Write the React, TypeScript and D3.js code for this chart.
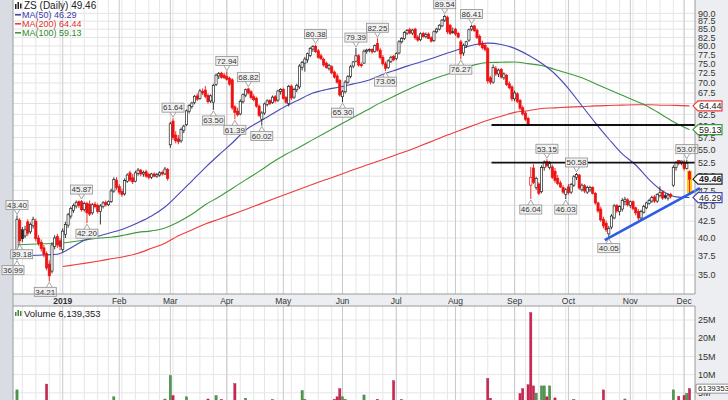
import React from 'react';
import * as d3 from 'd3';

// ---------- categories ----------
const START = '2018-12-06';
const END = '2019-12-04';
const HOLIDAYS = ['2018-12-25', '2019-01-01', '2019-01-21', '2019-02-18', '2019-04-19', '2019-05-27', '2019-07-04', '2019-09-02', '2019-11-28'];
const MONTH_NAMES = ['2019', 'Feb', 'Mar', 'Apr', 'May', 'Jun', 'Jul', 'Aug', 'Sep', 'Oct', 'Nov', 'Dec'];

// ---------- daily OHLC ----------
const opens = [
  37.5, 42.6, 41.2, 40.3, 42.4, 40.9, 41.8, 42.5, 40.0, 39.4,
  38.6, 37.8, 36.4, 35.5, 38.8, 40.2, 39.6, 38.4, 40.5, 41.9,
  43.3, 44.2, 44.9, 45.6, 45.6, 44.3, 45.3, 45.2, 43.8, 45.2,
  45.0, 44.0, 44.8, 45.5, 45.1, 45.6, 47.4, 49.3, 48.2, 47.3,
  46.9, 49.1, 50.6, 49.7, 49.1, 50.5, 51.1, 50.4, 50.8, 50.3,
  49.8, 50.4, 50.0, 50.2, 50.7, 50.4, 51.2, 56.0, 61.0, 58.0,
  57.2, 56.8, 59.0, 60.2, 63.2, 64.3, 65.2, 66.8, 66.2, 67.9,
  68.2, 66.9, 65.6, 65.3, 69.6, 71.8, 72.5, 72.0, 71.6, 71.2,
  70.8, 64.2, 63.2, 62.6, 65.4, 67.0, 68.5, 67.8, 66.6, 66.2,
  64.4, 61.4, 62.8, 64.8, 65.7, 65.2, 66.6, 65.8, 67.9, 68.4,
  66.4, 65.0, 69.2, 66.5, 68.3, 69.0, 74.0, 75.2, 76.1, 77.3,
  79.1, 79.9, 78.6, 77.2, 76.2, 75.2, 73.7, 74.2, 72.8, 71.8,
  70.6, 66.6, 67.8, 70.2, 71.7, 74.4, 75.7, 77.2, 74.8, 75.2,
  78.5, 78.9, 79.0, 78.4, 80.7, 78.8, 76.8, 75.0, 74.0, 75.6,
  77.0, 76.5, 78.0, 81.2, 82.2, 83.8, 84.8, 83.8, 85.0, 82.6,
  81.8, 83.7, 82.7, 83.5, 82.4, 81.6, 84.2, 85.0, 86.0, 87.8,
  88.7, 86.2, 84.2, 85.0, 83.7, 81.2, 78.0, 80.2, 81.7, 85.0,
  86.0, 84.7, 82.8, 80.8, 80.2, 79.2, 71.3, 70.2, 73.7, 72.3,
  73.5, 71.3, 71.9, 69.8, 69.0, 66.1, 67.3, 65.7, 64.0, 62.8,
  61.6, 48.4, 51.5, 48.0, 48.6, 47.3, 51.6, 52.7, 51.6, 51.7,
  50.9, 49.6, 48.8, 48.0, 46.8, 48.1, 47.2, 48.4, 49.8, 50.2,
  47.6, 48.3, 47.2, 47.6, 48.0, 47.0, 45.4, 44.4, 42.8, 42.2,
  40.6, 41.6, 43.0, 45.0, 44.0, 44.4, 45.6, 45.9, 45.0, 45.6,
  44.6, 44.0, 43.0, 43.9, 44.6, 45.3, 45.7, 46.4, 45.7, 46.6,
  47.2, 46.6, 46.2, 46.8, 48.4, 51.6, 52.9, 52.4, 52.6, 51.4,
  50.8,
];
const highs = [
  43.40, 43.0, 41.6, 41.8, 42.8, 42.3, 43.2, 42.9, 40.4, 39.8,
  39.0, 38.1, 36.9, 39.4, 40.4, 40.6, 40.0, 41.4, 42.4, 43.8,
  44.8, 45.3, 45.8, 45.8, 45.87, 45.6, 45.6, 45.8, 45.4, 45.6,
  45.3, 45.2, 45.7, 45.8, 45.8, 47.8, 49.8, 49.8, 48.6, 47.8,
  49.6, 50.5, 51.0, 50.4, 51.0, 51.5, 51.3, 51.0, 51.2, 50.6,
  50.6, 50.7, 50.6, 50.9, 51.0, 51.7, 51.5, 60.8, 61.64, 58.8,
  58.0, 59.6, 60.2, 63.6, 64.8, 65.4, 67.0, 67.4, 68.5, 68.6,
  69.2, 67.4, 67.2, 69.8, 72.4, 72.8, 72.9, 72.6, 72.94, 71.6,
  71.2, 64.6, 64.0, 66.0, 67.4, 68.6, 68.82, 68.2, 67.2, 66.6,
  64.8, 63.2, 65.2, 66.0, 66.0, 66.9, 67.0, 68.3, 68.7, 68.8,
  66.8, 69.5, 69.6, 68.8, 69.8, 74.9, 75.8, 76.9, 78.1, 79.7,
  80.2, 80.38, 79.1, 77.8, 76.7, 75.6, 75.0, 74.6, 73.2, 72.4,
  71.0, 68.2, 70.7, 72.0, 74.7, 75.8, 79.39, 77.7, 75.4, 79.0,
  79.2, 79.3, 79.3, 80.4, 82.25, 79.5, 77.4, 75.6, 76.2, 77.2,
  77.4, 78.2, 81.7, 82.6, 84.4, 85.0, 85.4, 85.1, 85.4, 83.2,
  84.0, 84.2, 84.0, 84.0, 82.8, 84.6, 85.4, 86.5, 88.2, 89.54,
  89.2, 86.6, 85.5, 85.4, 84.2, 81.8, 80.7, 81.5, 85.2, 86.41,
  86.2, 85.2, 83.4, 81.5, 80.8, 79.7, 71.8, 74.8, 74.4, 73.7,
  73.9, 72.7, 72.3, 70.4, 69.4, 68.1, 67.7, 66.1, 64.5, 63.2,
  62.0, 51.7, 52.2, 49.9, 48.9, 52.0, 52.9, 53.15, 52.8, 52.1,
  51.5, 50.2, 49.2, 48.4, 47.9, 48.6, 48.8, 50.2, 50.58, 50.4,
  48.7, 48.6, 48.3, 48.3, 48.2, 47.2, 45.6, 44.8, 43.2, 42.6,
  41.8, 43.6, 45.2, 45.2, 45.0, 46.2, 46.4, 46.2, 45.8, 45.8,
  44.8, 44.4, 44.3, 45.1, 45.6, 46.1, 46.6, 46.7, 47.0, 48.2,
  47.5, 47.0, 47.0, 47.1, 52.0, 52.8, 53.0, 52.9, 53.0, 53.07,
  51.0,
];
const lows = [
  36.99, 39.18, 39.4, 40.0, 40.3, 40.6, 41.4, 39.5, 38.9, 38.1,
  37.3, 35.6, 34.21, 35.2, 38.4, 38.6, 38.3, 38.0, 40.0, 41.5,
  42.9, 43.8, 44.5, 44.6, 44.0, 44.0, 42.2, 43.3, 43.5, 44.5,
  43.7, 42.0, 44.5, 44.8, 44.9, 45.4, 47.1, 47.6, 46.8, 46.4,
  46.6, 48.8, 49.0, 48.6, 48.9, 50.1, 50.0, 49.9, 49.7, 49.4,
  49.5, 49.8, 49.7, 49.9, 50.1, 50.2, 49.2, 55.4, 57.0, 56.3,
  56.1, 56.4, 58.4, 59.9, 62.7, 63.8, 64.8, 65.6, 65.9, 67.0,
  66.2, 65.0, 65.1, 63.5, 69.2, 71.0, 71.1, 71.0, 70.6, 69.3,
  63.5, 61.39, 62.0, 62.3, 65.0, 66.5, 67.2, 66.0, 65.5, 64.0,
  61.9, 60.02, 62.4, 64.3, 64.6, 64.9, 65.2, 65.4, 67.1, 65.9,
  64.9, 64.3, 65.8, 66.1, 67.7, 68.5, 73.2, 72.9, 75.3, 76.8,
  78.3, 78.0, 76.4, 76.0, 74.2, 73.7, 73.2, 72.2, 71.1, 69.8,
  66.6, 65.30, 67.4, 69.8, 71.2, 73.8, 75.4, 74.2, 74.0, 75.0,
  77.8, 78.2, 77.8, 78.1, 78.4, 76.2, 74.5, 73.05, 73.6, 75.2,
  75.7, 76.0, 77.6, 80.7, 81.7, 83.2, 83.4, 83.2, 81.8, 81.2,
  81.4, 82.4, 82.2, 82.0, 81.0, 81.2, 83.7, 84.6, 85.6, 87.2,
  83.5, 83.2, 83.6, 83.0, 82.2, 76.27, 77.2, 79.4, 81.2, 84.4,
  84.2, 82.0, 80.0, 79.0, 78.4, 69.8, 69.6, 69.8, 71.8, 71.5,
  71.1, 70.8, 69.2, 68.4, 65.5, 65.5, 65.1, 63.4, 62.2, 61.0,
  60.0, 46.04, 48.6, 47.6, 46.7, 47.0, 51.0, 51.6, 51.2, 49.5,
  48.8, 48.4, 47.9, 46.9, 46.03, 46.8, 46.9, 48.1, 49.3, 47.6,
  47.3, 47.0, 46.9, 47.2, 46.8, 45.1, 43.8, 42.4, 41.4, 40.9,
  40.05, 41.3, 42.8, 43.8, 43.4, 44.0, 45.0, 44.8, 44.6, 44.2,
  43.4, 42.6, 42.7, 43.7, 44.4, 45.1, 45.4, 45.4, 45.4, 46.3,
  45.9, 46.0, 45.8, 46.1, 48.1, 51.0, 52.0, 52.0, 51.0, 51.2,
  47.0,
];
const closes = [
  42.8, 39.6, 39.9, 41.2, 40.7, 42.0, 42.8, 39.9, 39.2, 38.5,
  37.7, 35.9, 34.9, 39.0, 40.0, 39.0, 38.8, 41.0, 42.0, 43.5,
  44.5, 45.0, 45.5, 45.0, 44.3, 45.3, 43.8, 43.6, 45.1, 44.8,
  44.0, 44.9, 45.4, 45.1, 45.6, 47.4, 49.4, 48.0, 47.2, 46.8,
  49.2, 50.2, 49.3, 49.0, 50.6, 51.1, 50.4, 50.7, 50.0, 49.8,
  50.4, 50.0, 50.3, 50.6, 50.4, 51.3, 49.6, 60.4, 57.5, 56.8,
  56.6, 59.2, 59.9, 63.3, 64.5, 65.1, 66.7, 66.0, 68.0, 67.5,
  66.7, 65.4, 66.8, 69.4, 72.0, 72.4, 71.4, 71.3, 70.9, 69.7,
  64.0, 62.9, 62.4, 65.5, 67.1, 68.3, 67.5, 66.4, 65.9, 64.4,
  62.3, 62.8, 64.9, 65.6, 65.0, 66.5, 65.6, 68.0, 68.4, 66.2,
  65.3, 69.1, 66.3, 68.4, 69.4, 74.4, 75.4, 76.3, 77.8, 79.3,
  79.8, 78.4, 76.8, 76.4, 74.7, 74.0, 74.6, 72.6, 71.5, 70.2,
  67.0, 67.8, 70.2, 71.6, 74.2, 75.5, 77.2, 74.7, 74.5, 78.5,
  78.8, 79.0, 78.3, 80.1, 78.8, 76.7, 75.0, 73.8, 75.8, 76.8,
  76.1, 77.8, 81.2, 82.2, 84.0, 84.6, 83.8, 84.7, 82.4, 81.7,
  83.6, 82.8, 83.4, 82.2, 81.4, 84.2, 85.0, 86.2, 87.8, 89.0,
  84.2, 83.7, 84.0, 83.5, 82.6, 77.7, 80.2, 81.2, 84.8, 85.8,
  84.5, 82.5, 80.4, 79.5, 79.0, 70.5, 70.2, 74.0, 72.3, 73.3,
  71.5, 72.3, 69.6, 68.8, 66.1, 67.5, 65.5, 63.9, 62.6, 61.4,
  60.3, 49.8, 48.9, 49.6, 47.0, 51.6, 52.6, 51.9, 52.3, 49.8,
  49.2, 48.7, 48.1, 47.2, 47.6, 47.1, 48.5, 49.9, 50.3, 47.9,
  48.4, 47.4, 48.0, 48.0, 47.0, 45.4, 44.1, 42.7, 41.8, 41.2,
  41.4, 43.3, 44.9, 44.1, 44.8, 45.8, 46.0, 45.1, 45.6, 44.5,
  43.8, 43.0, 44.0, 44.8, 45.4, 45.8, 46.3, 45.7, 46.8, 47.1,
  46.2, 46.3, 46.7, 46.5, 51.6, 52.5, 52.4, 52.8, 51.4, 52.4,
  49.46,
];
// volume in millions of shares
const volumes = [
  5.8, 2.9, 2.4, 1.9, 2.2, 1.8, 1.7, 2.3, 2.0, 2.6,
  2.4, 7.4, 1.6, 2.1, 1.9, 1.5, 1.7, 2.0, 1.9, 2.2,
  2.1, 1.8, 1.9, 1.6, 2.0, 1.4, 2.2, 1.9, 1.5, 1.3,
  1.6, 2.0, 1.5, 1.4, 1.7, 2.6, 3.9, 2.1, 1.8, 1.6,
  2.0, 1.9, 1.7, 1.5, 1.8, 1.6, 1.3, 1.2, 1.5, 1.4,
  1.3, 1.2, 1.4, 1.5, 1.6, 3.3, 2.4, 9.7, 4.2, 2.6,
  2.2, 2.0, 2.4, 3.9, 2.6, 2.1, 2.3, 1.9, 2.0, 1.8,
  2.2, 3.3, 2.1, 2.8, 4.2, 2.4, 3.2, 2.0, 1.8, 2.1,
  2.9, 7.5, 2.6, 2.2, 2.0, 3.5, 1.9, 1.7, 1.6, 2.0,
  2.4, 2.6, 1.9, 1.7, 1.5, 3.2, 1.6, 1.8, 1.5, 2.1,
  1.9, 2.6, 2.3, 1.8, 1.7, 2.9, 5.6, 3.2, 2.4, 2.2,
  2.0, 2.3, 2.1, 1.8, 2.2, 1.9, 1.7, 2.4, 3.2, 3.9,
  6.1, 3.9, 3.2, 2.5, 2.2, 2.0, 2.8, 2.4, 1.9, 4.4,
  2.3, 1.8, 1.7, 2.0, 3.2, 2.6, 2.4, 2.1, 1.9, 1.7,
  8.3, 2.2, 2.6, 3.2, 2.4, 1.9, 1.7, 1.6, 2.1, 1.9,
  1.7, 1.6, 1.5, 1.8, 2.0, 2.2, 1.9, 1.8, 2.1, 2.7,
  2.9, 2.4, 2.0, 2.2, 2.1, 2.8, 2.3, 1.9, 2.5, 2.4,
  2.0, 2.2, 2.6, 2.3, 2.4, 8.9, 3.5, 2.8, 2.4, 2.1,
  2.2, 1.9, 2.6, 2.4, 2.8, 2.6, 2.5, 4.8, 6.1, 2.9,
  7.2, 27.0, 6.9, 4.9, 2.9, 6.9, 6.9, 3.9, 6.9, 2.8,
  3.6, 2.7, 2.5, 2.6, 2.4, 2.2, 2.5, 3.2, 2.6, 2.7,
  2.2, 2.0, 1.9, 2.1, 2.3, 2.6, 2.8, 2.9, 5.8, 2.9,
  2.7, 2.6, 2.5, 2.1, 1.9, 2.2, 3.3, 2.0, 1.8, 2.1,
  1.9, 2.3, 2.0, 1.8, 1.7, 1.6, 1.9, 1.8, 2.0, 2.4,
  2.1, 1.7, 1.6, 1.5, 5.8, 2.8, 4.0, 2.6, 4.25, 4.8,
  6.139353,
];

const ma50Idx = d3.range(0, 251, 5);
const ma50 = [37.49, 37.55, 37.62, 37.72, 38.58, 39.68, 40.24, 40.79, 41.41, 42.26,
  43.30, 44.74, 46.82, 49.13, 51.58, 53.97, 56.36, 59.07, 60.87, 62.62,
  64.41, 65.96, 67.48, 68.36, 68.98, 69.76, 70.55, 71.91, 73.16, 74.38,
  75.5, 76.65, 77.98, 79.2, 80.36, 80.83, 80.44, 79.3, 77.43, 75.14,
  72.3, 68.6, 64.46, 60.62, 57.18, 54.18, 52.06, 49.39, 47.38, 46.4, 46.29];
const ma100Idx = d3.range(0, 251, 5);
const ma100 = [39.03, 39.1, 39.17, 39.26, 39.43, 39.7, 39.97, 40.11, 40.43, 40.82,
  41.04, 41.48, 42.39, 43.57, 45.11, 46.37, 47.83, 49.34, 50.87, 52.57,
  54.11, 55.51, 57.05, 58.6, 60.18, 61.79, 63.42, 65.14, 66.65, 68.24,
  69.72, 71.06, 72.25, 73.48, 74.71, 75.34, 75.42, 75.5, 75.05, 74.55,
  73.48, 72.4, 71.31, 69.81, 68.36, 66.95, 65.57, 64.14, 62.3, 60.5, 59.13];
const ma200Idx = [17, ...d3.range(20, 251, 5)];
const ma200 = [36.08, 36.24, 36.5, 36.79, 37.11, 37.42, 37.87, 38.54, 39.26, 40.31,
  41.17, 42.06, 42.8, 43.56, 44.34, 45.16, 46.0, 46.86, 47.71, 48.56,
  49.41, 50.27, 51.17, 52.04, 52.92, 53.83, 54.75, 55.79, 56.89, 58.0,
  59.05, 60.12, 61.2, 62.08, 62.94, 63.33, 63.82, 63.98, 64.15, 64.27,
  64.44, 64.53, 64.62, 64.7, 64.7, 64.6, 64.55, 64.44];

// ---------- annotations ----------
const priceTicks = d3.range(35, 90.01, 2.5);
const volTicks = [5, 10, 15, 20, 25];
const labelIdx = [0, 0, 1, 12, 24, 26, 58, 73, 78, 81, 86, 91, 111, 121, 126, 134, 137, 159, 165, 169, 191, 197, 204, 208, 220, 249];
const labelKind = ['H', 'L', 'L', 'L', 'H', 'L', 'H', 'L', 'H', 'L', 'H', 'L', 'H', 'L', 'H', 'H', 'L', 'H', 'L', 'H', 'L', 'H', 'L', 'H', 'L', 'H'];
const labelDx = [0, -6, 2, -4, 0, 0, 0, 0, 0, 0, 0, 0, 0, 0, 0, 0, 0, 0, 0, 0, 0, 0, 0, 0, 0, 0];
const resistanceLevels = [60.14, 52.5];
const resistanceFrom = 176.4;
const trendIdx = [218.5, 253.9];
const trendPrice = [39.7, 47.9];
const LAST_CLOSE = 49.46;
const LAST_VOLUME = '6,139,353';
const LAST_VOLUME_TAG = '6139353';

const FONT = 'Liberation Sans, Arial, sans-serif';

function tradingDays(): Date[] {
  const hol = new Set(HOLIDAYS);
  const out: Date[] = [];
  const d = new Date(START + 'T00:00:00Z');
  const end = new Date(END + 'T00:00:00Z');
  while (d <= end) {
    const wd = d.getUTCDay();
    const iso = d.toISOString().slice(0, 10);
    if (wd !== 0 && wd !== 6 && !hol.has(iso)) out.push(new Date(d.getTime()));
    d.setUTCDate(d.getUTCDate() + 1);
  }
  return out;
}

const PL = 13, PR = 695, PT = 0, PB = 294, VT = 306, VB = 400;

function Tag({ yy, text, color, bold }: { yy: number; text: string; color: string; bold?: boolean }) {
  return (
    <g>
      <path d={`M693,${yy} L698,${yy - 5} L722,${yy - 5} L722,${yy + 5} L698,${yy + 5} Z`} fill="#fff" stroke={color} strokeWidth={1.2} />
      <text x={699} y={yy + 3.3} fontSize={9} fontWeight={bold ? 'bold' : 'normal'} fill="#222">{text}</text>
    </g>
  );
}

export default function App() {
  const dates = tradingDays();
  const n = closes.length;
  const x = d3.scaleLinear().domain([0, n - 1]).range([17, 689.5]);
  const y = d3.scaleLog().domain([35, 90]).range([275, 13.3]);
  const yv = d3.scaleLinear().domain([0, 25]).range([411, 320]);

  const monthStarts = dates.map((_, i) => i).filter((i) => i > 0 && dates[i].getUTCMonth() !== dates[i - 1].getUTCMonth());
  const weekStarts = dates.map((_, i) => i).filter((i) => i > 0 && dates[i].getUTCDay() < dates[i - 1].getUTCDay());

  const maPath = (idx: number[], vals: number[]) =>
    d3.line<number>().x((_, k) => x(idx[k])).y((v) => y(v)).curve(d3.curveMonotoneX)(vals) || '';

  const isUp = (i: number) => (i === 0 ? closes[i] >= opens[i] : closes[i] >= closes[i - 1]);

  return (
    <svg width={728} height={400} style={{ position: 'absolute', left: 0, top: 0, display: 'block' }} fontFamily={FONT}>
      <defs>
        <clipPath id="pclip"><rect x={PL} y={PT} width={PR - PL} height={PB - PT} /></clipPath>
        <clipPath id="vclip"><rect x={PL} y={VT} width={PR - PL} height={VB - VT} /></clipPath>
      </defs>
      {/* backgrounds */}
      <rect x={0} y={0} width={728} height={400} fill="#eceef1" />
      <rect x={0} y={0} width={PL} height={400} fill="#d9dde3" />
      <rect x={PL} y={PT} width={PR - PL} height={PB - PT} fill="#fff" />
      <rect x={PL} y={VT} width={PR - PL} height={VB - VT} fill="#fff" />

      {/* price grid */}
      <g clipPath="url(#pclip)">
        {priceTicks.map((t) => (
          <line key={'h' + t} x1={PL} x2={PR} y1={y(t)} y2={y(t)} stroke="#e3e3e3" strokeWidth={1} />
        ))}
        {weekStarts.map((i) => (
          <line key={'w' + i} x1={x(i)} x2={x(i)} y1={PT} y2={PB} stroke="#e6e6e6" strokeWidth={1} />
        ))}
        {monthStarts.map((i) => (
          <line key={'m' + i} x1={x(i)} x2={x(i)} y1={PT} y2={PB} stroke="#c9c9c9" strokeWidth={1} />
        ))}
      </g>
      {/* volume grid */}
      <g clipPath="url(#vclip)">
        {volTicks.map((t) => (
          <line key={'vh' + t} x1={PL} x2={PR} y1={yv(t)} y2={yv(t)} stroke="#e6e6e6" strokeWidth={1} />
        ))}
        {weekStarts.map((i) => (
          <line key={'vw' + i} x1={x(i)} x2={x(i)} y1={VT} y2={VB} stroke="#e6e6e6" strokeWidth={1} />
        ))}
        {monthStarts.map((i) => (
          <line key={'vm' + i} x1={x(i)} x2={x(i)} y1={VT} y2={VB} stroke="#c9c9c9" strokeWidth={1} />
        ))}
      </g>

      {/* moving averages */}
      <g clipPath="url(#pclip)" fill="none" strokeWidth={1.1}>
        <path d={maPath(ma200Idx, ma200)} stroke="#ee3b3b" />
        <path d={maPath(ma100Idx, ma100)} stroke="#3d9a3d" />
        <path d={maPath(ma50Idx, ma50)} stroke="#4a4ab4" />
      </g>

      {/* candles */}
      <g clipPath="url(#pclip)">
        <rect x={x(n - 1) - 2.6} y={y(highs[n - 1])} width={5.2} height={y(lows[n - 1]) - y(highs[n - 1])} fill="#ffc814" />
        {closes.map((c, i) => {
          const col = isUp(i) ? '#222' : '#ee1111';
          const hollow = c > opens[i];
          const top = y(Math.max(opens[i], c));
          const bot = y(Math.min(opens[i], c));
          const cx = x(i);
          return (
            <g key={'c' + i}>
              <line x1={cx} x2={cx} y1={y(highs[i])} y2={y(lows[i])} stroke={col} strokeWidth={0.9} />
              <rect x={cx - 1.1} y={top} width={2.2} height={Math.max(0.8, bot - top)} fill={hollow ? '#fff' : col} stroke={col} strokeWidth={0.7} />
            </g>
          );
        })}
      </g>

      {/* resistance lines */}
      {resistanceLevels.map((lv) => (
        <line key={'r' + lv} x1={x(resistanceFrom)} x2={PR} y1={y(lv)} y2={y(lv)} stroke="#111" strokeWidth={1.8} />
      ))}
      {/* trend line */}
      <line x1={x(trendIdx[0])} y1={y(trendPrice[0])} x2={x(trendIdx[1])} y2={y(trendPrice[1])} stroke="#2b5ce6" strokeWidth={2.6} />

      {/* high / low labels */}
      {labelIdx.map((i, k) => {
        const hi = labelKind[k] === 'H';
        const v = hi ? highs[i] : lows[i];
        const py = y(v);
        const cx = Math.max(13, x(i) + labelDx[k]);
        const bw = 22, bh = 9;
        const by = hi ? py - 6 - bh : py + 6;
        const tipY = hi ? py - 1 : py + 1;
        const baseY = hi ? by + bh : by;
        return (
          <g key={'lbl' + k}>
            <path d={`M${x(i) - 3},${baseY} L${x(i)},${tipY} L${x(i) + 3},${baseY}`} fill="#fff" stroke="#8f8f8f" strokeWidth={0.8} />
            <rect x={cx - bw / 2} y={by} width={bw} height={bh} fill="#f1f1f1" stroke="#8f8f8f" strokeWidth={0.8} />
            <text x={cx} y={by + 7.3} fontSize={8} textAnchor="middle" fill="#333">{v.toFixed(2)}</text>
          </g>
        );
      })}

      {/* volume bars */}
      <g clipPath="url(#vclip)">
        {volumes.map((v, i) => {
          const up = isUp(i);
          return (
            <rect key={'v' + i} x={x(i) - 1.1} y={yv(v)} width={2.2} height={yv(0) - yv(v)}
              fill={up ? '#4f9a4f' : '#d02552'} stroke={up ? '#2f6f2f' : '#a01840'} strokeWidth={0.4} />
          );
        })}
      </g>

      {/* frames */}
      <line x1={PL} x2={PL} y1={0} y2={400} stroke="#9a9a9a" />
      <line x1={PR} x2={PR} y1={0} y2={PB} stroke="#9a9a9a" />
      <line x1={PR} x2={PR} y1={VT} y2={400} stroke="#9a9a9a" />
      <line x1={PL} x2={PR} y1={PB} y2={PB} stroke="#9a9a9a" />
      <line x1={PL} x2={PR} y1={VT} y2={VT} stroke="#9a9a9a" />

      {/* right price axis */}
      {priceTicks.map((t) => (
        <text key={'pt' + t} x={698} y={y(t) + 3.2} fontSize={9} fill="#333">{t.toFixed(1)}</text>
      ))}
      <Tag yy={y(ma200[ma200.length - 1])} text={ma200[ma200.length - 1].toFixed(2)} color="#ee3b3b" />
      <Tag yy={y(ma100[ma100.length - 1])} text={ma100[ma100.length - 1].toFixed(2)} color="#3d9a3d" />
      <Tag yy={y(LAST_CLOSE)} text={LAST_CLOSE.toFixed(2)} color="#222" bold />
      <Tag yy={y(ma50[ma50.length - 1])} text={ma50[ma50.length - 1].toFixed(2)} color="#4a4ab4" />

      {/* volume axis */}
      {volTicks.map((t) => (
        <text key={'vt' + t} x={698} y={yv(t) + 3.2} fontSize={9} fill="#333">{t + 'M'}</text>
      ))}
      <rect x={696} y={yv(volumes[n - 1]) - 4.5} width={34} height={9} fill="#fff" stroke="#777" strokeWidth={0.8} rx={1} />
      <text x={698} y={yv(volumes[n - 1]) + 2.8} fontSize={8} fill="#222">{LAST_VOLUME_TAG}</text>

      {/* date axis */}
      {monthStarts.map((i) => {
        const m = dates[i].getUTCMonth();
        return (
          <text key={'d' + i} x={x(i)} y={304} fontSize={8.5} textAnchor="middle" fill="#333" fontWeight={m === 0 ? 'bold' : 'normal'}>
            {MONTH_NAMES[m]}
          </text>
        );
      })}

      {/* legend */}
      <g>
        <rect x={15} y={4} width={1.5} height={5} fill="#222" />
        <rect x={17.5} y={2} width={1.5} height={7} fill="#222" />
        <rect x={20} y={3.5} width={1.5} height={5} fill="#222" />
        <text x={24} y={9} fontSize={10} fill="#222">{`ZS (Daily) ${LAST_CLOSE.toFixed(2)}`}</text>
        <rect x={15} y={14} width={6} height={1.6} fill="#4a4ab4" />
        <text x={22} y={18} fontSize={9} fill="#3c3ca8">{`MA(50) ${ma50[ma50.length - 1].toFixed(2)}`}</text>
        <rect x={15} y={23} width={6} height={1.6} fill="#ee3b3b" />
        <text x={22} y={27} fontSize={9} fill="#e03030">{`MA(200) ${ma200[ma200.length - 1].toFixed(2)}`}</text>
        <rect x={15} y={32} width={6} height={1.6} fill="#3d9a3d" />
        <text x={22} y={36} fontSize={9} fill="#2f8a2f">{`MA(100) ${ma100[ma100.length - 1].toFixed(2)}`}</text>
      </g>
      <g>
        <rect x={15} y={312} width={1.5} height={4} fill="#3d8a3d" />
        <rect x={17.5} y={310} width={1.5} height={6} fill="#3d8a3d" />
        <rect x={20} y={311} width={1.5} height={5} fill="#3d8a3d" />
        <text x={24} y={317} fontSize={9.5} fill="#222">{`Volume ${LAST_VOLUME}`}</text>
      </g>
    </svg>
  );
}
